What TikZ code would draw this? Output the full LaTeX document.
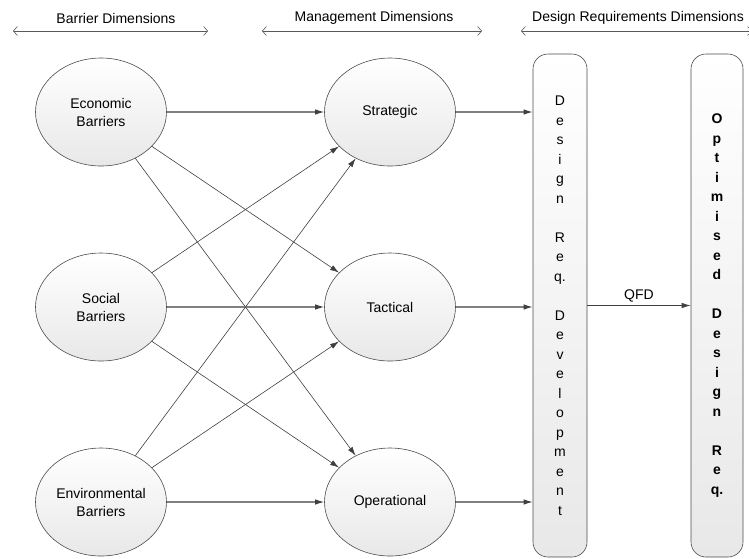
\documentclass[tikz,border=0pt]{standalone}
\usepackage{fontspec}
\setmainfont{Liberation Sans}
\usetikzlibrary{shapes.geometric,arrows.meta}

\begin{document}
\begin{tikzpicture}[x=1pt,y=-1pt,>={Latex[length=9pt,width=5.5pt]}]
    \tikzstyle{dim} = [draw=black!70, shape=ellipse, top color=white, bottom color=black!9, minimum width=131pt, minimum height=108pt, inner sep=0pt, line width=0.6pt, align=center, font=\fontsize{14}{18}\selectfont]
    \tikzstyle{bar} = [draw=black!70, rounded corners=15pt, top color=white, bottom color=black!9, minimum width=54pt, minimum height=503pt, inner sep=0pt, line width=0.6pt, align=center, font=\fontsize{14}{19.5}\selectfont]
    \tikzstyle{header} = [font=\fontsize{14}{16}\selectfont]
    \tikzstyle{link} = [draw=black!75, line width=0.6pt, ->]
    \tikzstyle{flow} = [draw=black!50, line width=1.1pt, -{Latex[length=9pt,width=5.5pt,color=black!75]}]
    \tikzstyle{span} = [draw=black!65, line width=0.6pt, {Straight Barb[length=4pt,width=9pt]}-{Straight Barb[length=4pt,width=9pt]}]

    \useasboundingbox (0,0) rectangle (749,558);

    %Header Labels
    \node [header] (barrier_lbl) at (116,18) {Barrier Dimensions};
    \node [header] (mgmt_lbl) at (374,18) {Management Dimensions};
    \node [header] (design_lbl) at (638,18) {Design Requirements Dimensions};
    \coordinate (barrier_l) at (13,31);
    \coordinate (barrier_r) at (208,31);
    \coordinate (mgmt_l) at (262,31);
    \coordinate (mgmt_r) at (482,31);
    \coordinate (design_l) at (521,31);
    \coordinate (design_r) at (752,31);

    %Creating Dimension Nodes
    \node [dim] (economic) at (101,112) {Economic\\Barriers};
    \node [dim, below of=economic, node distance=195pt] (social) {Social\\Barriers};
    \node [dim, below of=social, node distance=195pt] (environmental) {Environmental\\Barriers};
    \node [dim, right of=economic, node distance=289pt] (strategic) {Strategic};
    \node [dim, right of=social, node distance=289pt] (tactical) {Tactical};
    \node [dim, right of=environmental, node distance=289pt] (operational) {Operational};

    \node [bar] (design_dev) at (560,305.5) {D\\e\\s\\i\\g\\n\\[19.5pt]R\\e\\q.\\[19.5pt]D\\e\\v\\e\\l\\o\\p\\m\\e\\n\\t};
    \node [bar, minimum width=52pt, font=\fontsize{14}{19.5}\selectfont\bfseries] (optimised) at (717,305.5) {O\\p\\t\\i\\m\\i\\s\\e\\d\\[19.5pt]D\\e\\s\\i\\g\\n\\[19.5pt]R\\e\\q.};

    %Connecting Nodes
    \draw [span] (barrier_l) -- (barrier_r);
    \draw [span] (mgmt_l) -- (mgmt_r);
    \draw [span] (design_l) -- (design_r);

    \draw [flow] (economic) -- (strategic);
    \draw [link] (economic) -- (tactical);
    \draw [link] (economic) -- (operational);
    \draw [link] (social) -- (strategic);
    \draw [flow] (social) -- (tactical);
    \draw [link] (social) -- (operational);
    \draw [link] (environmental) -- (strategic);
    \draw [link] (environmental) -- (tactical);
    \draw [flow] (environmental) -- (operational);

    \draw [flow] (strategic) -- (strategic -| design_dev.west);
    \draw [flow] (tactical) -- (tactical -| design_dev.west);
    \draw [flow] (operational) -- (operational -| design_dev.west);
    \draw [link, line width=0.8pt] (design_dev) -- node [above, header, inner sep=3pt] (qfd) {QFD} (optimised);
\end{tikzpicture}
\end{document}
